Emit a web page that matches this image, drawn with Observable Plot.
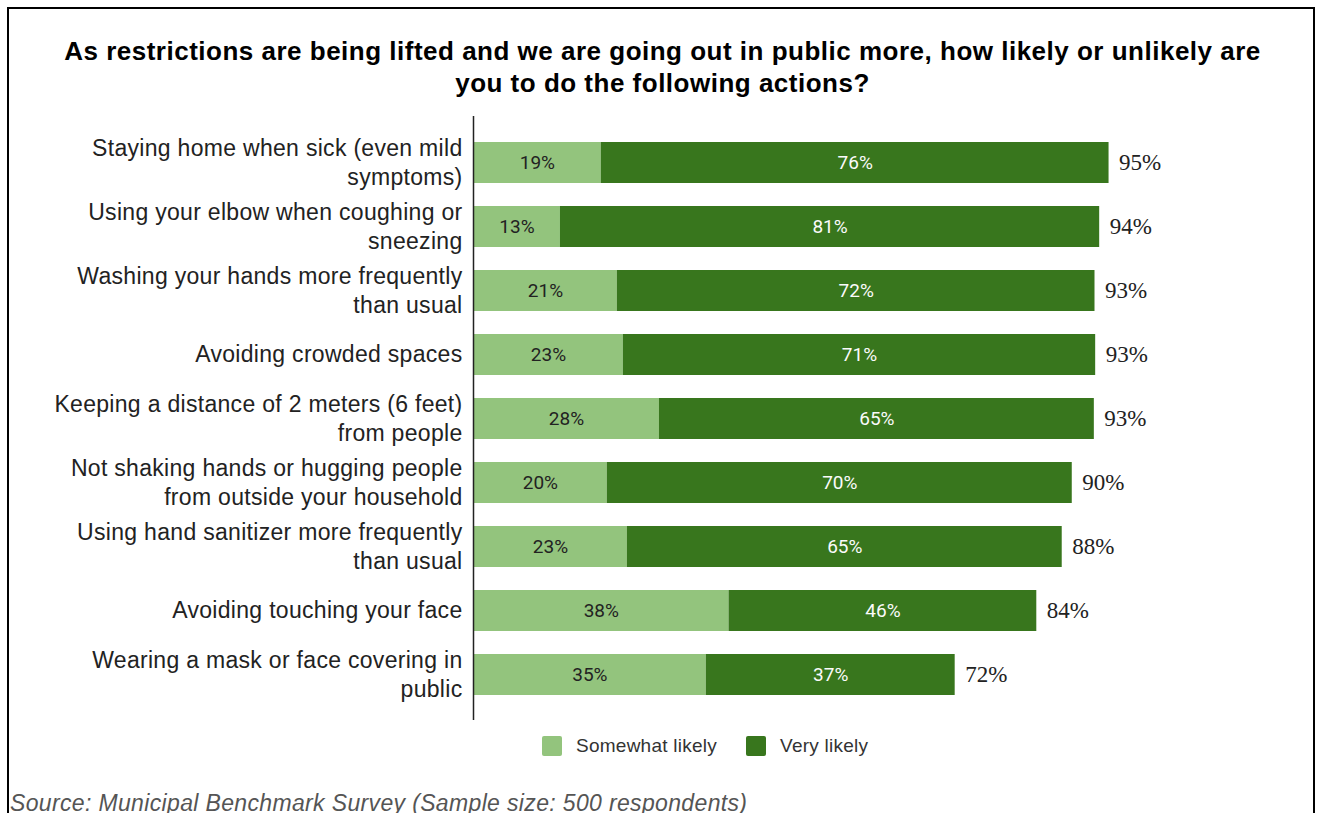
<!DOCTYPE html>
<html>
<head>
<meta charset="utf-8">
<script src="https://cdn.jsdelivr.net/npm/d3@7"></script>
<script src="https://cdn.jsdelivr.net/npm/@observablehq/plot@0.6"></script>
<style>
  html, body { margin: 0; padding: 0; background: #fff; width: 1318px; height: 813px; overflow: hidden; }
  #frame { position: absolute; left: 7px; top: 7px; width: 1308px; height: 900px; border: 2px solid #000; box-sizing: border-box; }
  #title { position: absolute; left: 8px; top: 35px; width: 1309px; text-align: center; font: bold 26px/32px "Liberation Sans", Arial, sans-serif; letter-spacing: 0.5px; color: #000; }
  #chart { position: absolute; left: 0; top: 109px; }
  #chart g[aria-label="y-axis tick label"] { letter-spacing: 0.3px; }
  #legend { position: absolute; left: 542px; top: 735px; display: flex; align-items: center; font: 19px "Liberation Sans", Arial, sans-serif; letter-spacing: 0.25px; color: #333; }
  #legend .sw { width: 20px; height: 20px; border-radius: 2px; margin-right: 14px; }
  #legend .it { display: flex; align-items: center; margin-right: 29px; }
  #source { position: absolute; left: 10px; top: 790px; font: italic 23px/26px "Liberation Sans", Arial, sans-serif; letter-spacing: 0.35px; color: #555; white-space: nowrap; }
</style>
</head>
<body>
<div id="frame"></div>
<div id="title">As restrictions are being lifted and we are going out in public more, how likely or unlikely are<br>you to do the following actions?</div>
<div id="chart"></div>
<div id="legend"></div>
<div id="source">Source: Municipal Benchmark Survey (Sample size: 500 respondents)</div>
<script>
// ---- data ----
const categories = [
  "Staying home when sick (even mild\nsymptoms)",
  "Using your elbow when coughing or\nsneezing",
  "Washing your hands more frequently\nthan usual",
  "Avoiding crowded spaces",
  "Keeping a distance of 2 meters (6 feet)\nfrom people",
  "Not shaking hands or hugging people\nfrom outside your household",
  "Using hand sanitizer more frequently\nthan usual",
  "Avoiding touching your face",
  "Wearing a mask or face covering in\npublic"
];
const seriesNames = ["Somewhat likely", "Very likely"];
const seriesColors = ["#93c47d", "#38761d"];
// bar lengths
const somewhatValues = [19.1, 13.0, 21.5, 22.4, 27.8, 20.0, 23.0, 38.2, 34.8];
const veryValues     = [75.9, 80.6, 71.4, 70.6, 65.0, 69.5, 65.0, 46.0, 37.2];
// printed labels
const somewhatLabels = [19, 13, 21, 23, 28, 20, 23, 38, 35];
const veryLabels     = [76, 81, 72, 71, 65, 70, 65, 46, 37];
const totalLabels    = [95, 94, 93, 93, 93, 90, 88, 84, 72];

// ---- build tables ----
const rows = [];
categories.forEach((c, i) => {
  rows.push({cat: c, series: seriesNames[0], value: somewhatValues[i], label: somewhatLabels[i]});
  rows.push({cat: c, series: seriesNames[1], value: veryValues[i], label: veryLabels[i]});
});
const totals = categories.map((c, i) => ({cat: c, end: somewhatValues[i] + veryValues[i], total: totalLabels[i]}));

const stackOpts = {x: "value", y: "cat", z: "series", order: seriesNames};

const chart = Plot.plot({
  width: 1318,
  height: 620,
  marginTop: 7,
  marginBottom: 9,
  marginLeft: 473,
  marginRight: 176,
  style: {fontFamily: "'Liberation Sans', Arial, sans-serif", fontSize: "23px", color: "#222", background: "transparent"},
  x: {domain: [0, 100], axis: null},
  y: {domain: categories, padding: 0.36, axis: null, label: null},
  color: {domain: seriesNames, range: seriesColors},
  marks: [
    Plot.barX(rows, Plot.stackX({...stackOpts, fill: "series", inset: 0})),
    Plot.textX(rows, Plot.stackX({...stackOpts,
      text: d => d.series === seriesNames[0] ? d.label + "%" : null,
      fill: "#222", fontFamily: "Roboto, sans-serif", fontSize: 19})),
    Plot.textX(rows, Plot.stackX({...stackOpts,
      text: d => d.series === seriesNames[1] ? d.label + "%" : null,
      fill: "#fbfbfb", fontFamily: "Roboto, sans-serif", fontSize: 19})),
    Plot.text(totals, {x: "end", y: "cat", text: d => d.total + "%", dx: 10, textAnchor: "start",
      fontFamily: "'Liberation Serif', 'Times New Roman', serif", fontSize: 23, fill: "#222"}),
    Plot.ruleX([0], {stroke: "#222", strokeWidth: 1.5}),
    Plot.axisY({tickSize: 0, tickPadding: 11, fontSize: 23, lineHeight: 1.26, dy: -2, label: null, fill: "#222"})
  ]
});
document.getElementById("chart").appendChild(chart);

// legend
const legend = document.getElementById("legend");
seriesNames.forEach((s, i) => {
  const it = document.createElement("div");
  it.className = "it";
  it.innerHTML = `<div class="sw" style="background:${seriesColors[i]}"></div><span>${s}</span>`;
  legend.appendChild(it);
});
</script>
</body>
</html>
